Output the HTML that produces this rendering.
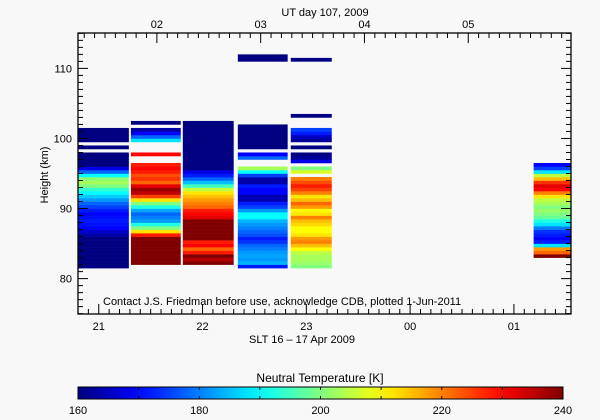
<!DOCTYPE html>
<html><head><meta charset="utf-8">
<style>
html,body{margin:0;padding:0;background:#f8f8f8;}
svg{display:block;font-family:"Liberation Sans",sans-serif;}
</style></head>
<body>
<svg id="chart" width="600" height="420" viewBox="0 0 600 420">
  <rect x="0" y="0" width="600" height="420" fill="#f8f8f8"/>
  <g id="cells"></g>
  <g id="axes"></g>
  <rect x="78" y="33" width="493" height="281" fill="none" stroke="#000" stroke-width="1.3"/>
  <text x="325" y="16" font-size="11" text-anchor="middle">UT day 107, 2009</text>
  <text x="48" y="175" font-size="11" text-anchor="middle" transform="rotate(-90 48 175)">Height (km)</text>
  <text x="302" y="343" font-size="11" text-anchor="middle">SLT 16 – 17 Apr 2009</text>
  <text x="103" y="305" font-size="11">Contact J.S. Friedman before use, acknowledge CDB, plotted 1-Jun-2011</text>
  <text x="320" y="382" font-size="12" text-anchor="middle">Neutral Temperature [K]</text>
  <defs><linearGradient id="jet" x1="0" x2="1" y1="0" y2="0"></linearGradient></defs>
  <rect x="78" y="387" width="485" height="12" fill="url(#jet)" stroke="#000" stroke-width="1"/>
  <g id="cbticks"></g>
</svg>
<script>
// ---- data ----
const colStart = [20.80, 21.31, 21.81, 22.34, 22.85, 25.19]; // SLT hours (relative to day start, >24 = next day)
const colEnd   = [21.29, 21.79, 22.30, 22.82, 23.245, 25.55];
const colBase  = [81.5, 82.0, 82.0, 81.5, 81.5, 83.0]; // km, bottom of first bin
const binStep = 0.5;
const N = null;
const col1 = [160,160,160,160,160,160,160,160,160,163,166,170,171,172,171,170,172,175,178,182,186,190,194,200,203,201,190,178,168,160,160,160,160,N,160,N,160,160,160,160];
const col2 = [240,240,240,240,240,240,240,240,228,212,200,192,182,180,178,183,192,200,212,225,235,238,232,222,226,224,228,230,228,N,N,230,N,N,N,188,178,170,163,N,160];
const col3 = [240,236,240,228,222,230,228,240,240,240,240,240,240,232,230,228,222,220,218,215,212,205,195,185,178,172,168,160,160,160,160,160,160,160,160,160,160,160,160,160,160];
const col4 = [172,184,182,183,182,180,178,174,172,176,178,180,182,184,190,190,182,175,172,164,164,170,170,172,163,163,175,190,203,N,N,178,170,N,160,160,160,160,160,160,160,N,N,N,N,N,N,N,N,N,N,N,N,N,N,N,N,N,N,160,160];
const col5 = [200,202,203,203,205,210,215,220,218,212,210,210,213,215,220,212,210,218,222,215,212,220,225,228,224,220,N,207,200,N,168,162,160,N,160,N,162,165,172,175,N,N,N,160,N,N,N,N,N,N,N,N,N,N,N,N,N,N,N,160];
const col6 = [240,222,218,188,172,170,172,174,180,188,192,198,200,202,200,203,205,212,220,230,232,226,215,205,188,175,170];
const columns = [col1, col2, col3, col4, col5, col6];
const yTicks = [80, 90, 100, 110];
const xTicks = [21, 22, 23, 24, 25];
const xTickLabels = ["21", "22", "23", "00", "01"];
const topTicks = [2, 3, 4, 5];
const topTickLabels = ["02", "03", "04", "05"];
const cbTicks = [160, 180, 200, 220, 240];
const tMin = 160, tMax = 240;

// ---- scales ----
const plotL = 78, plotR = 571, plotT = 33, plotB = 314;
const hMin = 74.95, hMax = 115.05;
const xMin = 20.80, xMax = 25.55;
const utOffset = 4.44;
const yS = h => plotB - (h - hMin) / (hMax - hMin) * (plotB - plotT);
const xS = t => plotL + (t - xMin) / (xMax - xMin) * (plotR - plotL);
function jet(v){
  const t = Math.max(0, Math.min(1, (v - tMin) / (tMax - tMin)));
  const c = x => Math.round(255 * Math.max(0, Math.min(1, x)));
  return `rgb(${c(1.5 - Math.abs(4*t - 3))},${c(1.5 - Math.abs(4*t - 2))},${c(1.5 - Math.abs(4*t - 1))})`;
}
const NS = "http://www.w3.org/2000/svg";
function mk(tag, attrs, parent){ const e = document.createElementNS(NS, tag); for (const k in attrs) e.setAttribute(k, attrs[k]); parent.appendChild(e); return e; }

// ---- cells ----
const cells = document.getElementById('cells');
columns.forEach((col, ci) => {
  const x0 = xS(colStart[ci]), x1 = xS(colEnd[ci]);
  col.forEach((v, bi) => {
    if (v === null) return;
    const h0 = colBase[ci] + bi * binStep, h1 = h0 + binStep;
    const r = mk('rect', {x: x0.toFixed(2), y: yS(h1).toFixed(2), width: (x1 - x0).toFixed(2), height: (yS(h0) - yS(h1) + 0.3).toFixed(2), fill: jet(v)}, cells);
    
    
  });
});

// ---- axes ----
const ax = document.getElementById('axes');
const tk = {stroke: '#000', 'stroke-width': 1};
for (let h = 75; h <= 115; h++) {
  const y = yS(h), len = (h % 10 === 0) ? 10 : 5;
  mk('line', Object.assign({x1: plotL, x2: plotL + len, y1: y, y2: y}, tk), ax);
  mk('line', Object.assign({x1: plotR, x2: plotR - len, y1: y, y2: y}, tk), ax);
}
yTicks.forEach(v => {
  const t = mk('text', {x: plotL - 6, y: yS(v) + 4, 'font-size': 11, 'text-anchor': 'end'}, ax);
  t.textContent = v;
  
  
});
for (let m = Math.ceil(xMin * 10); m <= Math.floor(xMax * 10); m++) {
  const x = xS(m / 10), len = (m % 10 === 0) ? 10 : 5;
  mk('line', Object.assign({x1: x, x2: x, y1: plotB, y2: plotB - len}, tk), ax);
}
for (let m = Math.ceil((xMin + utOffset) * 10); m <= Math.floor((xMax + utOffset) * 10); m++) {
  const x = xS(m / 10 - utOffset), len = (m % 10 === 0) ? 10 : 5;
  mk('line', Object.assign({x1: x, x2: x, y1: plotT, y2: plotT + len}, tk), ax);
}
xTicks.forEach((v, i) => {
  const t = mk('text', {x: xS(v), y: plotB + 16, 'font-size': 11, 'text-anchor': 'middle'}, ax);
  t.textContent = xTickLabels[i];
  
  
});
topTicks.forEach((v, i) => {
  const t = mk('text', {x: xS(v + 24 - utOffset), y: plotT - 5, 'font-size': 11, 'text-anchor': 'middle'}, ax);
  t.textContent = topTickLabels[i];
  
  
});

// ---- colorbar ----
const grad = document.getElementById('jet');
for (let i = 0; i <= 20; i++) mk('stop', {offset: (i / 20), 'stop-color': jet(tMin + i / 20 * (tMax - tMin))}, grad);
const cbL = 78, cbR = 563;
const cbS = v => cbL + (v - tMin) / (tMax - tMin) * (cbR - cbL);
const cbg = document.getElementById('cbticks');
for (let v = tMin + 10; v < tMax; v += 10) {
  mk('line', Object.assign({x1: cbS(v), x2: cbS(v), y1: 387, y2: 390}, tk), cbg);
  mk('line', Object.assign({x1: cbS(v), x2: cbS(v), y1: 399, y2: 396}, tk), cbg);
}
cbTicks.forEach(v => {
  const t = mk('text', {x: cbS(v), y: 414, 'font-size': 11, 'text-anchor': 'middle'}, cbg);
  t.textContent = v;
  
  
});
</script>
</body></html>
